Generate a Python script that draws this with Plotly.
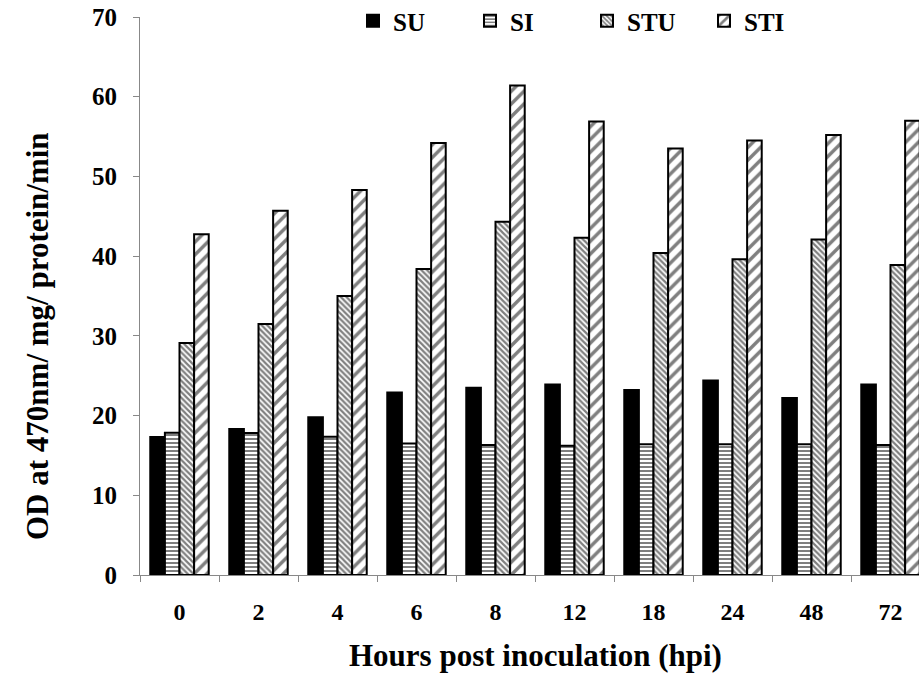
import plotly.graph_objects as go

hours = ["0", "2", "4", "6", "8", "12", "18", "24", "48", "72"]
su = [17.3, 18.3, 19.8, 22.9, 23.5, 23.9, 23.2, 24.4, 22.2, 23.9]
si = [17.85, 17.8, 17.35, 16.5, 16.3, 16.2, 16.4, 16.4, 16.4, 16.3]
stu = [29.1, 31.5, 35.0, 38.4, 44.3, 42.3, 40.4, 39.6, 42.1, 38.9]
sti = [42.75, 45.7, 48.3, 54.2, 61.4, 56.9, 53.5, 54.5, 55.2, 57.0]
series_names = ["SU", "SI", "STU", "STI"]
y_ticks = [0, 10, 20, 30, 40, 50, 60, 70]

FONT = "'Liberation Serif', 'Times New Roman', Times, serif"

patterns = [
    dict(shape=""),
    dict(shape="-", size=4, solidity=0.5, fgcolor="black", bgcolor="white"),
    dict(shape="\\", size=4, solidity=0.55, fgcolor="black", bgcolor="white"),
    dict(shape="/", size=9, solidity=0.38, fgcolor="black", bgcolor="white"),
]

fig = go.Figure()
for name, vals, pat in zip(series_names, [su, si, stu, sti], patterns):
    marker = dict(color="black" if name == "SU" else "white",
                  line=dict(color="black", width=2))
    if pat["shape"]:
        marker["pattern"] = pat
    fig.add_trace(go.Bar(x=hours, y=vals, name=name, marker=marker))

W, H = 919, 683
ml, mr, mt, mb = 140, 0, 17, 108
cat_w = 79.0
x_end = -0.5 + (W - ml - mr) / cat_w
pw, ph = W - ml - mr, H - mt - mb

def px_x(x):
    return (x - ml) / pw

def px_y(y):
    return (H - mb - y) / ph

fig.update_layout(
    width=W, height=H,
    margin=dict(l=ml, r=mr, t=mt, b=mb, pad=0, autoexpand=False),
    plot_bgcolor="white", paper_bgcolor="white",
    barmode="group", bargap=0.26, bargroupgap=0,
    font=dict(family=FONT, color="black", size=24, weight="bold"),
    showlegend=True,
    legend=dict(orientation="h", x=px_x(353), xanchor="left", y=px_y(21), yanchor="middle",
                font=dict(family=FONT, size=25, color="black", weight="bold"),
                bgcolor="rgba(0,0,0,0)", entrywidth=72, entrywidthmode="pixels",
                itemwidth=30, tracegroupgap=0),
    xaxis=dict(type="category", range=[-0.5, x_end], showline=True, linecolor="#888888",
               linewidth=1, ticks="outside", tickson="boundaries", ticklen=6,
               tickcolor="#888888", showgrid=False, zeroline=False,
               tickfont=dict(family=FONT, size=24, color="black", weight="bold"),
               ticklabelstandoff=15, ticklabeloverflow="allow"),
    yaxis=dict(range=[0, 70], tickvals=y_ticks, showline=True, linecolor="#888888",
               linewidth=1, ticks="outside", ticklen=6, tickcolor="#888888",
               showgrid=False, zeroline=False,
               tickfont=dict(family=FONT, size=25, color="black", weight="bold"),
               ticklabelstandoff=11, ticklabeloverflow="allow"),
    annotations=[
        dict(text="OD at 470nm/ mg/ protein/min", xref="paper", yref="paper",
             x=px_x(37), y=px_y(336),
             xanchor="center", yanchor="middle", textangle=-90, showarrow=False,
             font=dict(family=FONT, size=31, color="black", weight="bold")),
        dict(text="Hours post inoculation (hpi)", xref="paper", yref="paper",
             x=px_x(535), y=px_y(655),
             xanchor="center", yanchor="middle", showarrow=False,
             font=dict(family=FONT, size=31, color="black", weight="bold")),
    ],
)

# remove the default 8px page margin so the 919x683 figure fills the window
fig.write_html("out.html", config={"displayModeBar": False},
               post_script="document.body.style.margin='0';")
